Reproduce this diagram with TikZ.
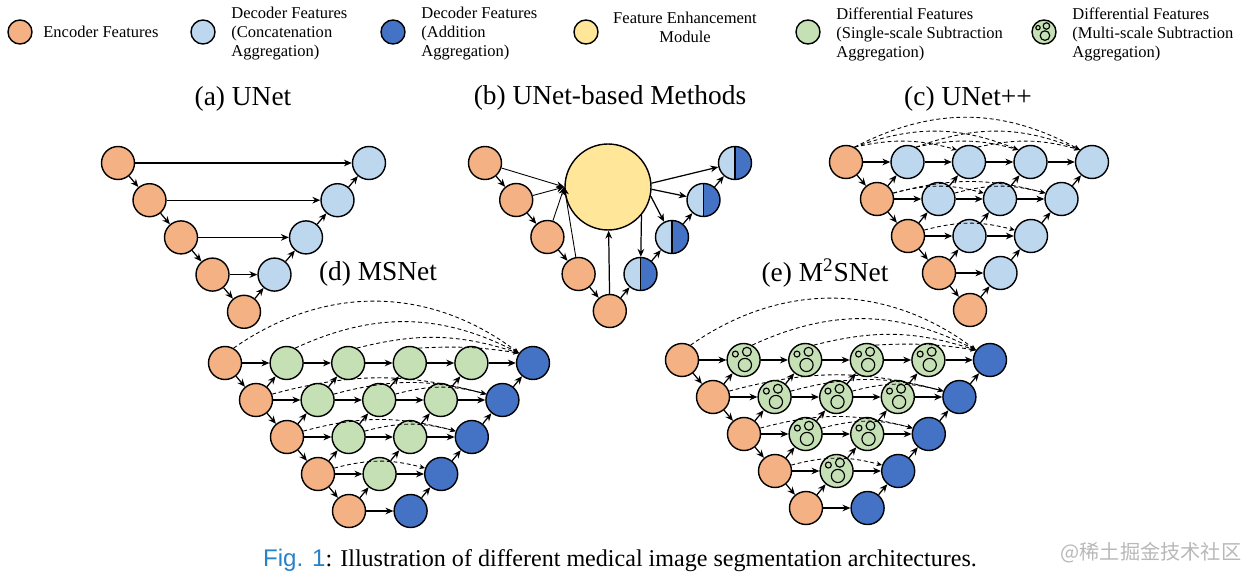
\documentclass[tikz,border=0pt]{standalone}
\usepackage{fontspec}
\setmainfont{Liberation Serif}
\newfontfamily\figsans{Liberation Sans}
\newfontfamily\cjk{Noto Sans CJK SC}
\usetikzlibrary{arrows.meta}

\definecolor{encC}{HTML}{F4B183}
\definecolor{catC}{HTML}{BDD7EE}
\definecolor{addC}{HTML}{4472C4}
\definecolor{femC}{HTML}{FFE699}
\definecolor{subC}{HTML}{C5E0B4}
\definecolor{figC}{RGB}{40,130,200}

% three rings inside a multi-scale node, #1 = node radius
\newcommand\msring[1]{%
  \draw[line width=0.65pt]
    (path picture bounding box.center) ++({-0.5*#1},{0.36*#1}) circle ({0.18*#1})
    (path picture bounding box.center) ++({0.2*#1},{0.5*#1}) circle ({0.27*#1})
    (path picture bounding box.center) ++({0.08*#1},{-0.3*#1}) circle ({0.4*#1});}

\tikzset{
  feat/.style={circle, draw, line width=0.8pt, inner sep=0pt, minimum size=0.66cm},
  encnode/.style={feat, fill=encC},
  catnode/.style={feat, fill=catC},
  addnode/.style={feat, fill=addC},
  subnode/.style={feat, fill=subC},
  msnode/.style={subnode, path picture={\msring{0.33cm}}},
  halfnode/.style={feat, fill=catC, path picture={
      \fill[addC] (path picture bounding box.north) rectangle (path picture bounding box.south east);
      \draw[line width=0.8pt] (path picture bounding box.north) -- (path picture bounding box.south);}},
  femnode/.style={feat, fill=femC, minimum size=1.72cm},
  keynode/.style={circle, draw, line width=0.8pt, inner sep=0pt, minimum size=0.48cm},
  keytext/.style={anchor=west, align=left, inner sep=0pt, font=\fontsize{9.4}{10.8}\selectfont},
  panel/.style={font=\fontsize{15.6}{18}\selectfont},
  conn/.style={line width=0.7pt, -{Stealth[length=4.5pt,width=3.8pt]}},
  skipline/.style={line width=0.5pt, dash pattern=on 2.2pt off 1.6pt, -{Stealth[length=3.2pt,width=2.8pt]}},
}

\begin{document}
\begin{tikzpicture}[x=0.02cm, y=-0.02cm]
  \useasboundingbox (0,0) rectangle (1244,584);

  % legend
  \node[keynode, fill=encC] (k1) at (20,32) {};
  \node[keytext] (t1) at (43,32) {Encoder Features};
  \node[keynode, fill=catC] (k2) at (203,32) {};
  \node[keytext] (t2) at (231,34) {Decoder Features\\(Concatenation\\Aggregation)};
  \node[keynode, fill=addC] (k3) at (393,32) {};
  \node[keytext] (t3) at (421,34) {Decoder Features\\(Addition\\Aggregation)};
  \node[keynode, fill=femC] (k4) at (586,32) {};
  \node[keytext, anchor=center, align=center] (t4) at (685,27) {Feature Enhancement\\Module};
  \node[keynode, fill=subC] (k5) at (808,32) {};
  \node[keytext] (t5) at (836,34) {Differential Features\\(Single-scale Subtraction\\Aggregation)};
  \node[keynode, fill=subC, path picture={\msring{0.24cm}}] (k6) at (1044,32) {};
  \node[keytext] (t6) at (1072,34) {Differential Features\\(Multi-scale Subtraction\\Aggregation)};

  % titles
  \node[panel] (ta) at (243,99) {(a) UNet};
  \node[panel] (tb) at (610,98) {(b) UNet-based Methods};
  \node[panel] (tc) at (968,99) {(c) UNet++};
  \node[panel] (td) at (378,274) {(d) MSNet};
  \node[panel] (te) at (825,273) {(e) M\textsuperscript{2}SNet};

  % (a) UNet
  \foreach \i in {0,...,4} \node[encnode] (ae\i) at ({118+31.5*\i},{163+37.2*\i}) {};
  \foreach \i in {0,...,3} \node[catnode] (ad\i) at ({369-31.5*\i},{163+37.2*\i}) {};
  \foreach \i [evaluate=\i as \n using int(\i+1)] in {0,...,3} {
    \draw[conn] (ae\i) -- (ae\n);
    \draw[conn] (ae\i) -- (ad\i);
  }
  \draw[conn] (ae4) -- (ad3);
  \foreach \i [evaluate=\i as \n using int(\i-1)] in {1,2,3} \draw[conn] (ad\i) -- (ad\n);

  % (b) UNet-based methods
  \node[femnode] (fem) at (608,187) {};
  \foreach \i in {0,...,4} \node[encnode] (be\i) at ({485+31.2*\i},{163+37*\i}) {};
  \foreach \i in {0,...,3} \node[halfnode] (bd\i) at ({735-31.5*\i},{163+37*\i}) {};
  \foreach \i [evaluate=\i as \n using int(\i+1)] in {0,...,3} {
    \draw[conn] (be\i) -- (be\n);
    \draw[conn, line width=0.5pt] (be\i) -- (fem.west);
  }
  \draw[conn] (be4) -- (bd3);
  \draw[conn] (be4) -- (fem);
  \foreach \i [evaluate=\i as \n using int(\i-1)] in {1,2,3} \draw[conn] (bd\i) -- (bd\n);
  \foreach \i/\ang in {0/5,1/-3,2/-12,3/-40} \draw[conn] (fem.\ang) -- (bd\i);

  % (c) UNet++
  \foreach \i in {0,...,4} \node[encnode] (c\i0) at ({846+31*\i},{162+37*\i}) {};
  \foreach \i/\m in {0/4,1/3,2/2,3/1} \foreach \j in {1,...,\m}
    \node[catnode] (c\i\j) at ({846+31*\i+61.5*\j},{162+37*\i}) {};
  \foreach \i/\m in {0/4,1/3,2/2,3/1} {
    \pgfmathtruncatemacro\n{\i+1}
    \draw[conn] (c\i0) -- (c\n0);
    \foreach \j in {1,...,\m} {
      \pgfmathtruncatemacro\k{\j-1}
      \draw[conn] (c\i\k) -- (c\i\j);
      \draw[conn] (c\n\k) -- (c\i\j);
    }
  }
  \foreach \j in {2,3,4} {
    \pgfmathtruncatemacro\p{\j-2}
    \foreach \k in {0,...,\p} {
      \pgfmathtruncatemacro\bd{7*(\j-\k)}
      \draw[skipline] (c0\k.60) to[bend left=\bd] (c0\j.135);
    }
  }
  \foreach \i/\m in {1/3,2/2} \foreach \j in {2,...,\m} {
    \pgfmathtruncatemacro\p{\j-2}
    \foreach \k in {0,...,\p} \draw[skipline] (c\i\k.20) to[bend left=15] (c\i\j.160);
  }

  % (d) MSNet
  \foreach \i in {0,...,4} \node[encnode] (d\i0) at ({225+31*\i},{363+37*\i}) {};
  \foreach \i/\m in {0/4,1/3,2/2,3/1} \foreach \j in {1,...,\m}
    \node[subnode] (d\i\j) at ({225+31*\i+61.6*\j},{363+37*\i}) {};
  \foreach \i/\j in {0/5,1/4,2/3,3/2,4/1}
    \node[addnode] (d\i\j) at ({225+31*\i+61.6*\j},{363+37*\i}) {};
  \foreach \i/\m in {0/5,1/4,2/3,3/2,4/1} \foreach \j in {1,...,\m} {
    \pgfmathtruncatemacro\k{\j-1}
    \draw[conn] (d\i\k) -- (d\i\j);
  }
  \foreach \i/\m in {0/4,1/3,2/2,3/1} {
    \pgfmathtruncatemacro\n{\i+1}
    \draw[conn] (d\i0) -- (d\n0);
    \foreach \j in {0,...,\m} {
      \pgfmathtruncatemacro\k{\j+1}
      \draw[conn] (d\n\j) -- (d\i\k);
    }
  }
  \foreach \k in {0,...,3} {
    \pgfmathtruncatemacro\bd{6+10*(3-\k)}
    \draw[skipline] (d0\k.60) to[bend left=\bd] (d05.145);
  }
  \foreach \i/\m in {1/2,2/1,3/0} {
    \pgfmathtruncatemacro\tg{5-\i}
    \foreach \k in {0,...,\m} \draw[skipline] (d\i\k.20) to[bend left=15] (d\i\tg.160);
  }

  % (e) M2SNet
  \foreach \i in {0,...,4} \node[encnode] (e\i0) at ({682+31*\i},{360+37*\i}) {};
  \foreach \i/\m in {0/4,1/3,2/2,3/1} \foreach \j in {1,...,\m}
    \node[msnode] (e\i\j) at ({682+31*\i+61.6*\j},{360+37*\i}) {};
  \foreach \i/\j in {0/5,1/4,2/3,3/2,4/1}
    \node[addnode] (e\i\j) at ({682+31*\i+61.6*\j},{360+37*\i}) {};
  \foreach \i/\m in {0/5,1/4,2/3,3/2,4/1} \foreach \j in {1,...,\m} {
    \pgfmathtruncatemacro\k{\j-1}
    \draw[conn] (e\i\k) -- (e\i\j);
  }
  \foreach \i/\m in {0/4,1/3,2/2,3/1} {
    \pgfmathtruncatemacro\n{\i+1}
    \draw[conn] (e\i0) -- (e\n0);
    \foreach \j in {0,...,\m} {
      \pgfmathtruncatemacro\k{\j+1}
      \draw[conn] (e\n\j) -- (e\i\k);
    }
  }
  \foreach \k in {0,...,3} {
    \pgfmathtruncatemacro\bd{6+10*(3-\k)}
    \draw[skipline] (e0\k.60) to[bend left=\bd] (e05.145);
  }
  \foreach \i/\m in {1/2,2/1,3/0} {
    \pgfmathtruncatemacro\tg{5-\i}
    \foreach \k in {0,...,\m} \draw[skipline] (e\i\k.20) to[bend left=15] (e\i\tg.160);
  }

  % caption
  \node (cap) at (620,560) {\fontsize{13.7}{16}\selectfont{\figsans\color{figC}Fig. 1}: Illustration of different medical image segmentation architectures.};
  \node[text=black!28] (wm) at (1151,553) {\cjk\fontsize{11.5}{13}\selectfont @稀土掘金技术社区};
\end{tikzpicture}
\end{document}
